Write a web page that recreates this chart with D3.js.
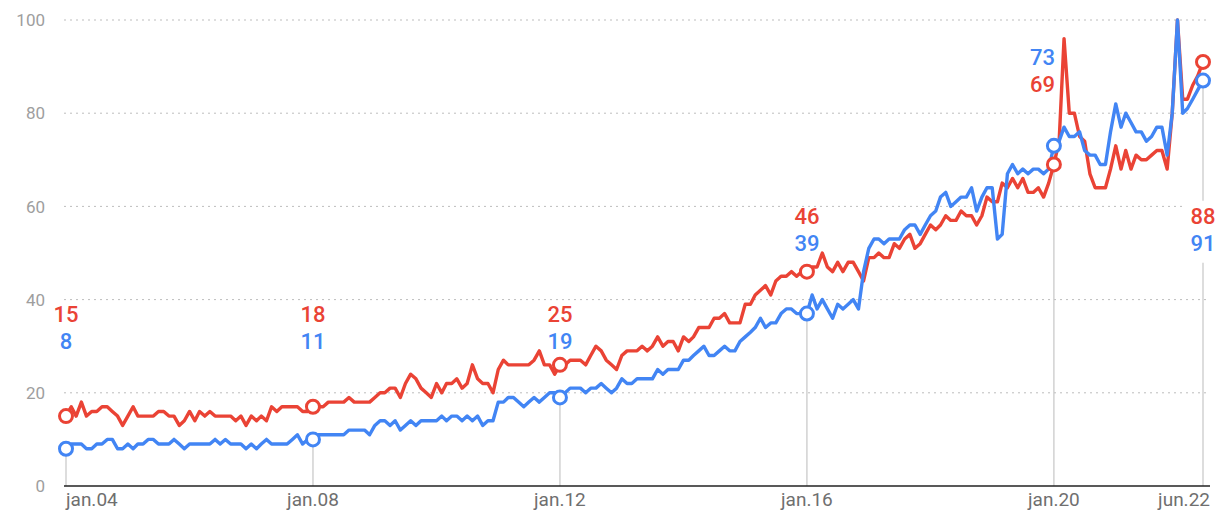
<!DOCTYPE html>
<html>
<head>
<meta charset="utf-8">
<script src="https://cdn.jsdelivr.net/npm/d3@7"></script>
<style>
  body { margin: 0; background: #fff; }
  svg { display: block; font-family: Roboto, "Noto Sans", sans-serif; }
</style>
</head>
<body>
<svg id="chart"></svg>
<script>
// monthly interest values, jan 2004 -> jun 2022 (one value per month)
const startMonth = new Date(2004, 0, 1);

const redValues = [
  15,17,15,18,15,16,16,17,17,16,15,13, 15,17,15,15,15,15,16,16,15,15,13,14,
  16,14,16,15,16,15,15,15,15,14,15,13, 15,14,15,14,17,16,17,17,17,17,16,16,
  17,17,17,18,18,18,18,19,18,18,18,18, 19,20,20,21,21,19,22,24,23,21,20,19,
  22,20,22,22,23,21,22,26,23,22,22,20, 25,27,26,26,26,26,26,27,29,26,26,24,
  26,26,27,27,27,26,28,30,29,27,26,25, 28,29,29,29,30,29,30,32,30,31,31,29,
  32,31,32,34,34,34,36,36,37,35,35,35, 39,39,41,42,43,41,44,45,45,46,45,46,
  46,47,47,50,47,46,48,46,48,48,46,44, 49,49,50,49,49,52,51,53,54,51,52,54,
  56,55,56,58,57,57,59,58,58,56,58,62, 61,61,65,64,66,64,66,63,63,64,62,65,
  69,74,96,80,80,75,74,67,64,64,64,68, 73,68,72,68,71,70,70,71,72,72,68,80,
  100,83,83,86,88,91
];

const blueValues = [
  8,9,9,9,8,8,9,9,10,10,8,8, 9,8,9,9,10,10,9,9,9,10,9,8,
  9,9,9,9,9,10,9,10,9,9,9,8, 9,8,9,10,9,9,9,9,10,11,9,10,
  10,11,11,11,11,11,11,12,12,12,12,11, 13,14,14,13,14,12,13,14,13,14,14,14,
  14,15,14,15,15,14,15,14,15,13,14,14, 18,18,19,19,18,17,18,19,18,19,20,20,
  19,20,21,21,21,20,21,21,22,21,20,21, 23,22,22,23,23,23,23,25,24,25,25,25,
  27,27,28,29,30,28,28,29,30,29,29,31, 32,33,34,36,34,35,35,37,38,38,37,37,
  37,41,38,40,38,36,39,38,39,40,38,46, 51,53,53,52,53,53,53,55,56,56,54,56,
  58,59,62,63,60,61,62,62,64,59,62,64, 64,53,54,67,69,67,68,67,68,68,67,68,
  73,74,77,75,75,76,72,71,71,69,69,76, 82,77,80,78,76,76,74,75,77,77,71,80,
  100,80,81,83,85,87
];

// highlighted months and the numbers printed next to them
const markerMonths = [0, 48, 96, 144, 192, 221];
const redLabels = ["15", "18", "25", "46", "69", "88"];
const blueLabels = ["8", "11", "19", "39", "73", "91"];
const tickLabels = ["jan.04", "jan.08", "jan.12", "jan.16", "jan.20", "jun.22"];
const yTicks = [0, 20, 40, 60, 80, 100];

// where the label pair sits (value of the upper label) and how it aligns
const labelLevel = [37, 37, 37, 58, 92, 58];
const labelAnchor = ["middle", "middle", "middle", "middle", "end", "middle"];

const width = 1216, height = 512;
const RED = "#EA4335", BLUE = "#4285F4";

const svg = d3.select("#chart").attr("width", width).attr("height", height);

const dateOf = i => d3.timeMonth.offset(startMonth, i);

const x = d3.scaleTime()
  .domain([dateOf(0), dateOf(redValues.length - 1)])
  .range([66, 1203]);

const y = d3.scaleLinear()
  .domain([0, 100])
  .range([486, 20]);

const plotLeft = 64, plotRight = 1210;

// gridlines
svg.append("g")
  .selectAll("line")
  .data(yTicks.filter(d => d > 0))
  .join("line")
  .attr("x1", plotLeft)
  .attr("x2", plotRight)
  .attr("y1", d => y(d))
  .attr("y2", d => y(d))
  .attr("stroke", "#bdbdbd")
  .attr("stroke-width", 1)
  .attr("stroke-dasharray", "2,4");

// y labels
svg.append("g")
  .selectAll("text")
  .data(yTicks)
  .join("text")
  .attr("x", 45)
  .attr("y", d => y(d))
  .attr("dy", "0.36em")
  .attr("text-anchor", "end")
  .attr("fill", "#9e9e9e")
  .attr("font-size", 17)
  .text(d => d);

// vertical marker lines, from the lower circle down to the axis
svg.append("g")
  .selectAll("line")
  .data(markerMonths)
  .join("line")
  .attr("x1", d => x(dateOf(d)))
  .attr("x2", d => x(dateOf(d)))
  .attr("y1", d => y(Math.min(redValues[d], blueValues[d])) + 6)
  .attr("y2", y(0))
  .attr("stroke", "#c6c6c6")
  .attr("stroke-width", 1.2);

// axis line
svg.append("line")
  .attr("x1", plotLeft)
  .attr("x2", plotRight)
  .attr("y1", y(0))
  .attr("y2", y(0))
  .attr("stroke", "#222")
  .attr("stroke-width", 1.6);

// x tick labels, kept inside the plot at both ends
const ticks = svg.append("g")
  .selectAll("text")
  .data(markerMonths)
  .join("text")
  .attr("x", d => x(dateOf(d)))
  .attr("y", 506)
  .attr("text-anchor", "middle")
  .attr("fill", "#6f6f6f")
  .attr("font-size", 19)
  .text((d, i) => tickLabels[i]);

ticks.each(function(d) {
  let w = this.getComputedTextLength();
  let cx = x(dateOf(d));
  if (cx + w / 2 > plotRight) {
    d3.select(this).attr("x", plotRight - w / 2);
  }
  if (cx - w / 2 < x.range()[0]) {
    d3.select(this).attr("x", x.range()[0] + w / 2);
  }
});

// lines
const line = d3.line()
  .x((d, i) => x(dateOf(i)))
  .y(d => y(d));

svg.append("path")
  .datum(redValues)
  .attr("fill", "none")
  .attr("stroke", RED)
  .attr("stroke-width", 3.4)
  .attr("stroke-linejoin", "round")
  .attr("d", line);

svg.append("path")
  .datum(blueValues)
  .attr("fill", "none")
  .attr("stroke", BLUE)
  .attr("stroke-width", 3.4)
  .attr("stroke-linejoin", "round")
  .attr("d", line);

// marker circles
const markers = svg.append("g");
[[redValues, RED], [blueValues, BLUE]].forEach(function(s) {
  markers.append("g")
    .selectAll("circle")
    .data(markerMonths)
    .join("circle")
    .attr("cx", d => x(dateOf(d)))
    .attr("cy", d => y(s[0][d]))
    .attr("r", 6.5)
    .attr("fill", "#fff")
    .attr("stroke", s[1])
    .attr("stroke-width", 3);
});

// value labels: the higher series goes on top
const lab = svg.append("g")
  .attr("font-size", 22)
  .attr("font-weight", 500);

markerMonths.forEach(function(m, i) {
  let redTop = redValues[m] >= blueValues[m];
  let rows = redTop
    ? [[redLabels[i], RED], [blueLabels[i], BLUE]]
    : [[blueLabels[i], BLUE], [redLabels[i], RED]];
  let cx = x(dateOf(m)) + (labelAnchor[i] === "end" ? 1 : 0);
  let y0 = y(labelLevel[i]);

  // labels sitting below the circles cover the vertical line
  if (labelLevel[i] < Math.min(redValues[m], blueValues[m])) {
    lab.append("rect")
      .attr("x", cx - 18)
      .attr("y", y0 - 15)
      .attr("width", 36)
      .attr("height", 62)
      .attr("fill", "#fff");
  }

  rows.forEach(function(r, k) {
    lab.append("text")
      .attr("x", cx)
      .attr("y", y0 + k * 27)
      .attr("dy", "0.36em")
      .attr("text-anchor", labelAnchor[i])
      .attr("fill", r[1])
      .text(r[0]);
  });
});
</script>
</body>
</html>
